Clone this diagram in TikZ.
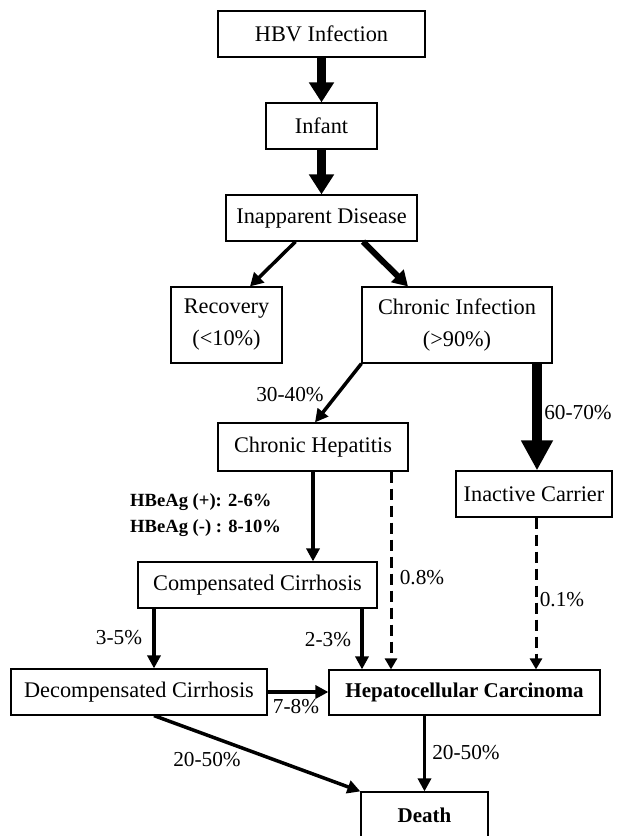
\documentclass[tikz,border=0pt]{standalone}
\usepackage{fontspec}
\setmainfont{Liberation Serif}
\usetikzlibrary{arrows.meta,calc}
\begin{document}
\begin{tikzpicture}[x=1pt,y=-1pt,
  box/.style={draw,line width=1.2pt,inner sep=0pt,align=center,font=\fontsize{22.3}{32}\selectfont},
  lbl/.style={inner sep=0pt,font=\fontsize{21.3}{26}\selectfont},
  blbl/.style={inner sep=0pt,anchor=west,font=\fontsize{18.6}{26}\selectfont\bfseries},
  huge/.style={line width=9pt,-{Triangle[length=20pt,width=24pt]}},
  big/.style={line width=10pt,-{Triangle[length=30pt,width=30pt]}},
  medarr/.style={line width=6pt,-{Triangle[length=15pt,width=17pt]}},
  arr/.style={line width=3.5pt,-{Triangle[length=13pt,width=13pt]}},
  darr/.style={line width=3pt,dash pattern=on 11pt off 6pt,-{Triangle[length=11pt,width=12pt]}}]
\useasboundingbox (0,0) rectangle (625,836);
\clip (0,0) rectangle (625,836);
\fill[white] (0,0) rectangle (625,836);
% nodes
\node[box,minimum width=207pt,minimum height=46pt] (hbv) at (321.5,34) {HBV Infection};
\node[box,minimum width=111pt,minimum height=46pt] (infant) at (321.5,126) {Infant};
\node[box,minimum width=191pt,minimum height=46pt] (inapp) at (321.5,218) {Inapparent Disease};
\node[box,minimum width=111pt,minimum height=76pt] (recovery) at (226.5,325) {Recovery\\(<10\%)};
\node[box,minimum width=190pt,minimum height=76pt] (chronic) at (457,325) {Chronic Infection\\(>90\%)};
\node[box,minimum width=190pt,minimum height=48pt] (chep) at (313,447) {Chronic Hepatitis};
\node[box,minimum width=156pt,minimum height=46pt] (inactive) at (534,494) {Inactive Carrier};
\node[box,minimum width=239pt,minimum height=46pt] (comp) at (257.5,585) {Compensated Cirrhosis};
\node[box,minimum width=256pt,minimum height=46pt] (decomp) at (139,692) {Decompensated Cirrhosis};
\node[box,minimum width=271pt,minimum height=45pt,font=\fontsize{21}{26}\selectfont\bfseries] (hcc) at (464.5,692.5) {Hepatocellular Carcinoma};
\node[box,minimum width=127pt,minimum height=46pt,font=\fontsize{21}{26}\selectfont\bfseries] (death) at (424.5,815) {Death};
% connectors
\draw[huge] (hbv.south) -- (infant.north);
\draw[huge] (infant.south) -- (inapp.north);
\draw[line width=3.5pt,-{Triangle[length=13pt,width=14pt]}] ([xshift=-26pt]inapp.south) -- ([xshift=23.5pt]recovery.north);
\draw[medarr] ([xshift=41.5pt]inapp.south) -- ([xshift=-49pt]chronic.north);
\draw[arr] (chronic.south west) -- ([xshift=2pt]chep.north);
\draw[big] ([xshift=80pt]chronic.south) -- ([xshift=80pt]chronic.south |- inactive.north);
\draw[arr] (chep.south) -- (chep.south |- comp.north);
\draw[darr] ([xshift=78pt]chep.south) -- ([xshift=78pt]chep.south |- hcc.north);
\draw[arr] ([xshift=-103.5pt]comp.south) -- ([xshift=-103.5pt]comp.south |- decomp.north);
\draw[arr] ([xshift=104.5pt]comp.south) -- ([xshift=104.5pt]comp.south |- hcc.north);
\draw[darr] ([xshift=2pt]inactive.south) -- ([xshift=2pt]inactive.south |- hcc.north);
\draw[arr] (decomp.east) -- (decomp.east -| hcc.west);
\draw[arr] ([xshift=15pt]decomp.south) -- (death.north west);
\draw[arr] (death.north |- hcc.south) -- (death.north);
% labels
\node[lbl] (l3040) at (290,395) {30-40\%};
\node[lbl] (l6070) at (578,413) {60-70\%};
\node[blbl] (lhbp) at (130,502) {HBeAg (+): 2-6\%};
\node[blbl] (lhbm) at (130,528) {HBeAg (-) : 8-10\%};
\node[lbl] (l35) at (119,638) {3-5\%};
\node[lbl] (l23) at (328,640) {2-3\%};
\node[lbl] (l08) at (422,578) {0.8\%};
\node[lbl] (l01) at (562,600) {0.1\%};
\node[lbl] (l78) at (296,707) {7-8\%};
\node[lbl] (l2050a) at (207,760) {20-50\%};
\node[lbl] (l2050b) at (466,753) {20-50\%};
\end{tikzpicture}
\end{document}
